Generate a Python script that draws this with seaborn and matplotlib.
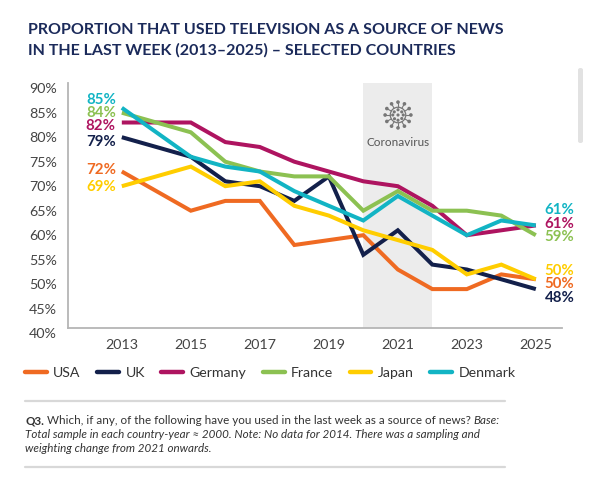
import numpy as np
import pandas as pd
import matplotlib
matplotlib.use("Agg")
import matplotlib.pyplot as plt
import seaborn as sns
from matplotlib.lines import Line2D
from matplotlib.patches import Circle, FancyBboxPatch

# ---------------- data ----------------
years = [2013, 2015, 2016, 2017, 2018, 2019, 2020, 2021, 2022, 2023, 2024, 2025]
countries = ["USA", "UK", "Germany", "France", "Japan", "Denmark"]
usa = [72, 64, 66, 66, 57, 58, 59, 52, 48, 48, 51, 50]
uk = [79, 75, 70, 69, 66, 71, 55, 60, 53, 52, 50, 48]
germany = [82, 82, 78, 77, 74, 72, 70, 69, 65, 59, 60, 61]
france = [84, 80, 74, 72, 71, 71, 64, 68, 64, 64, 63, 59]
japan = [69, 73, 69, 70, 65, 63, 60, 58, 56, 51, 53, 50]
denmark = [85, 75, 73, 72, 68, 65, 62, 67, 63, 59, 62, 61]
x_ticks = [2013, 2015, 2017, 2019, 2021, 2023, 2025]
y_ticks = [40, 45, 50, 55, 60, 65, 70, 75, 80, 85, 90]
covid_span = [2020, 2022]

title_lines = ["PROPORTION THAT USED TELEVISION AS A SOURCE OF NEWS",
               "IN THE LAST WEEK (2013\u20132025) \u2013 SELECTED COUNTRIES"]

series = dict(zip(countries, [usa, uk, germany, france, japan, denmark]))
df = pd.DataFrame([(c, y, v) for c in countries for y, v in zip(years, series[c])],
                  columns=["country", "year", "value"])

# ---------------- style ----------------
colors = {"USA": "#EF6A22", "UK": "#13204B", "Germany": "#AE1460",
          "France": "#8CC152", "Japan": "#FFCD00", "Denmark": "#12B4C4"}
# label pixel nudges (to avoid overlap, as in the original)
left_nudge = {"Denmark": 8, "France": 0, "Germany": -4, "UK": -4.5, "USA": 1, "Japan": -1}
right_nudge = {"Denmark": 15, "Germany": 1, "France": -2, "Japan": 8, "USA": -5, "UK": -8.6}

sns.set_theme(style="white")
plt.rcParams["font.family"] = ["Lato", "DejaVu Sans"]

W, H = 600, 482
fig = plt.figure(figsize=(6, 4.82), dpi=100)
fig.patch.set_facecolor("white")
renderer = fig.canvas.get_renderer()

def fx(px):
    return px / W

def fy(py):
    return 1 - py / H

ax_l, ax_r, ax_t, ax_b = 68, 561.7, 83.3, 328.3
ax = fig.add_axes([fx(ax_l), fy(ax_b), fx(ax_r - ax_l), (ax_b - ax_t) / H])

ax.axvspan(covid_span[0], covid_span[1], color="#ECECEC", zorder=0, lw=0)

sns.lineplot(data=df, x="year", y="value", hue="country", hue_order=countries,
             palette=colors, linewidth=2.9, ax=ax, legend=False, sort=False,
             estimator=None)
for ln in ax.get_lines():
    ln.set_solid_joinstyle("miter")
    ln.set_solid_capstyle("butt")

ax.set_xlim(2011.44, 2025.75)
ax.set_ylim(40, 90)
ax.set_xticks(x_ticks)
ax.set_xticklabels([str(y) for y in x_ticks])
ax.set_yticks(y_ticks)
ax.set_yticklabels([f"{v}%" for v in y_ticks])
ax.set_xlabel("")
ax.set_ylabel("")
ax.tick_params(axis="both", length=0, labelsize=10.3, labelcolor="#444444")
ax.tick_params(axis="x", pad=8)
ax.tick_params(axis="y", pad=8)
for lbl in ax.get_yticklabels():
    lbl.set_verticalalignment("top")
for s in ["top", "right"]:
    ax.spines[s].set_visible(False)
for s in ["left", "bottom"]:
    ax.spines[s].set_color("#B5B5B5")
    ax.spines[s].set_linewidth(1.3)
ax.grid(False)
ax.set_facecolor("none")

# end labels
for c in countries:
    vals = series[c]
    ax.annotate(f"{vals[0]}%", xy=(years[0], vals[0]), xytext=(-6, left_nudge[c]),
                textcoords="offset pixels", ha="right", va="center",
                fontsize=10.8, fontweight="bold", color=colors[c])
    ax.annotate(f"{vals[-1]}%", xy=(years[-1], vals[-1]), xytext=(9, right_nudge[c]),
                textcoords="offset pixels", ha="left", va="center",
                fontsize=10.8, fontweight="bold", color=colors[c])

# coronavirus label + icon
ax.text(sum(covid_span) / 2, 1 - (142.7 - ax_t) / (ax_b - ax_t), "Coronavirus",
        transform=ax.get_xaxis_transform(),
        ha="center", va="center", fontsize=8.5, color="#555555")

icon = fig.add_axes([fx(398 - 15), fy(115 + 15), fx(30), 30 / H])
icon.set_xlim(-1.2, 1.2)
icon.set_ylim(-1.2, 1.2)
icon.set_aspect("equal")
icon.axis("off")
icol = "#777777"
icon.add_patch(Circle((0, 0), 0.62, fill=False, ec=icol, lw=0.9))
for a in np.linspace(0, 2 * np.pi, 12, endpoint=False):
    icon.plot([0.62 * np.cos(a), 0.95 * np.cos(a)], [0.62 * np.sin(a), 0.95 * np.sin(a)],
              color=icol, lw=0.8)
    icon.add_patch(Circle((1.03 * np.cos(a), 1.03 * np.sin(a)), 0.09, color=icol))
for (px, py) in [(0, 0), (0.3, 0.25), (-0.3, 0.25), (0.3, -0.28), (-0.28, -0.3),
                 (0, 0.42), (0, -0.42), (0.42, 0), (-0.42, 0)]:
    icon.add_patch(Circle((px, py), 0.07, color=icol))

# legend
handles = [Line2D([], [], color=colors[c], lw=3.2, solid_capstyle="round") for c in countries]
fig.legend(handles, countries, loc="center left", bbox_to_anchor=(fx(25), fy(373)),
           ncol=6, frameon=False, fontsize=10.2, handlelength=1.55, handletextpad=0.45,
           columnspacing=1.15, labelcolor="#333333", borderpad=0, borderaxespad=0)

# title
tcol = "#1B2A5A"
t1 = fig.text(fx(28), fy(30), title_lines[0], fontsize=12, fontweight="bold",
              color=tcol, ha="left", va="center")
w = t1.get_window_extent(renderer).width
size = 12 * 477 / w
t1.set_fontsize(size)
fig.text(fx(28), fy(50), title_lines[1], fontsize=size, fontweight="bold",
         color=tcol, ha="left", va="center")

# separators
for yy in [400.7, 466.7]:
    fig.add_artist(Line2D([fx(25), fx(505)], [fy(yy), fy(yy)], color="#D8D8D8", lw=1.6))

# footnote
fcol = "#333333"
pieces = [
    [("Q3.", dict(fontweight="bold")),
     (" Which, if any, of the following have you used in the last week as a source of news? ", {}),
     ("Base:", dict(style="italic"))],
    [("Total sample in each country-year \u2248 2000. Note: No data for 2014. There was a sampling and",
      dict(style="italic"))],
    [("weighting change from 2021 onwards.", dict(style="italic"))],
]
line_y = [421, 434.6, 449]

def line_width(line, size):
    tot = 0
    for txt, kw in line:
        t = fig.text(0, 0, txt, fontsize=size, **kw)
        tot += t.get_window_extent(renderer).width
        t.remove()
    return tot

fsz = 10 * 472 / line_width(pieces[0], 10)
for line, yy in zip(pieces, line_y):
    x = 25
    for txt, kw in line:
        t = fig.text(fx(x), fy(yy), txt, fontsize=fsz, color=fcol, ha="left",
                     va="center", **kw)
        x += t.get_window_extent(renderer).width

# scrollbar artefact
fig.add_artist(FancyBboxPatch((fx(578), fy(143)), fx(5), (143 - 68) / H,
                              boxstyle="round,pad=0,rounding_size=0.004",
                              transform=fig.transFigure, fc="#E2E2E2", ec="none"))

fig.savefig("out.png", dpi=100, facecolor="white")
